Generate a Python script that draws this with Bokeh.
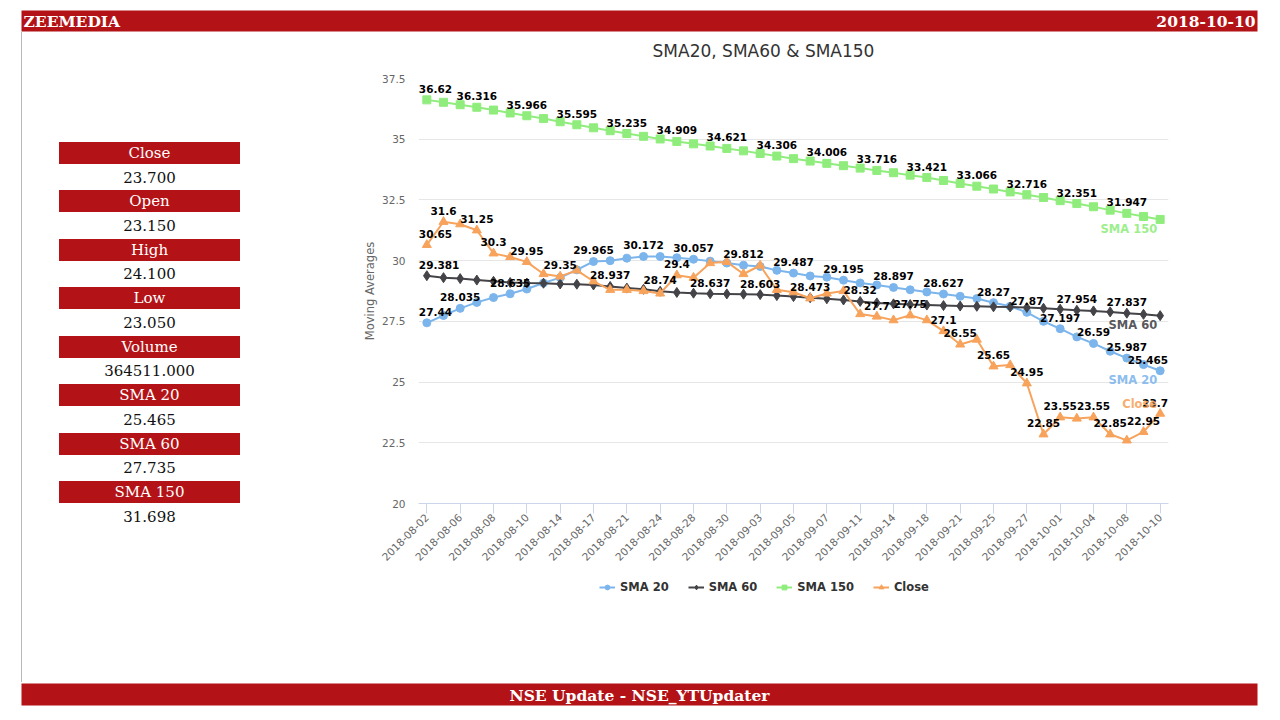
import math
from bokeh.plotting import figure
from bokeh.models import Range1d, FixedTicker, Legend, LegendItem, Div
from bokeh.layouts import column, row
from bokeh.embed import file_html
from bokeh.resources import INLINE
from bokeh.core.properties import value

# ---------------- data ----------------
dates = ["2018-08-02", "2018-08-03", "2018-08-06", "2018-08-07", "2018-08-08", "2018-08-09",
         "2018-08-10", "2018-08-13", "2018-08-14", "2018-08-16", "2018-08-17", "2018-08-20",
         "2018-08-21", "2018-08-23", "2018-08-24", "2018-08-27", "2018-08-28", "2018-08-29",
         "2018-08-30", "2018-08-31", "2018-09-03", "2018-09-04", "2018-09-05", "2018-09-06",
         "2018-09-07", "2018-09-10", "2018-09-11", "2018-09-12", "2018-09-14", "2018-09-17",
         "2018-09-18", "2018-09-19", "2018-09-21", "2018-09-24", "2018-09-25", "2018-09-26",
         "2018-09-27", "2018-09-28", "2018-10-01", "2018-10-03", "2018-10-04", "2018-10-05",
         "2018-10-08", "2018-10-09", "2018-10-10"]

sma20 = [27.44, 27.74, 28.035, 28.28, 28.48, 28.635, 28.83, 29.08, 29.3, 29.62,
         29.965, 30.0, 30.1, 30.172, 30.17, 30.12, 30.057, 29.98, 29.9, 29.812,
         29.76, 29.6, 29.487, 29.37, 29.32, 29.195, 29.08, 29.0, 28.897, 28.8,
         28.71, 28.627, 28.53, 28.44, 28.27, 28.12, 27.87, 27.5, 27.197, 26.86,
         26.59, 26.27, 25.987, 25.72, 25.465]

sma60 = [29.381, 29.3, 29.26, 29.2, 29.15, 29.1, 29.08, 29.07, 29.04, 29.03,
         29.0, 28.937, 28.87, 28.82, 28.74, 28.69, 28.66, 28.637, 28.63, 28.62,
         28.603, 28.56, 28.52, 28.473, 28.43, 28.38, 28.32, 28.26, 28.22, 28.19,
         28.17, 28.15, 28.13, 28.12, 28.1, 28.09, 28.07, 28.04, 28.0, 27.954,
         27.93, 27.89, 27.837, 27.79, 27.735]

sma150 = [36.62, 36.52, 36.42, 36.316, 36.2, 36.08, 35.966, 35.85, 35.72, 35.595,
          35.47, 35.35, 35.235, 35.12, 35.01, 34.909, 34.81, 34.72, 34.621, 34.52,
          34.41, 34.306, 34.2, 34.1, 34.006, 33.91, 33.81, 33.716, 33.62, 33.52,
          33.421, 33.3, 33.18, 33.066, 32.95, 32.83, 32.716, 32.6, 32.47, 32.351,
          32.22, 32.08, 31.947, 31.82, 31.698]

close = [30.65, 31.6, 31.5, 31.25, 30.3, 30.15, 29.95, 29.45, 29.35, 29.6,
         29.15, 28.8, 28.8, 28.75, 28.65, 29.4, 29.3, 29.9, 29.95, 29.45,
         29.8, 28.8, 28.7, 28.45, 28.65, 28.75, 27.8, 27.7, 27.55, 27.75,
         27.55, 27.1, 26.55, 26.75, 25.65, 25.7, 24.95, 22.85, 23.55, 23.5,
         23.55, 22.85, 22.6, 22.95, 23.7]

# which points carry a visible data label (as in the reference)
sma20_label_idx = [0, 2, 5, 10, 13, 16, 19, 22, 25, 28, 31, 34, 36, 38, 40, 42, 44]
sma60_label_idx = [0, 11, 14, 17, 20, 23, 26, 39, 42]
sma150_label_idx = list(range(0, 43, 3))
close_label_idx = [0, 1, 3, 4, 6, 8, 15, 27, 29, 31, 32, 34, 36, 37, 38, 40, 41, 43, 44]

series_names = ["SMA 20", "SMA 60", "SMA 150", "Close"]
series_colors = ["#7cb5ec", "#434348", "#90ed7d", "#f7a35c"]
series_markers = ["circle", "diamond", "square", "triangle"]
series_marker_sizes = [8, 10, 8, 9]

# end-of-series name labels (y in data units)
end_label_y = [25.09, 27.33, 31.31, 24.10]

panel_names = ["Close", "Open", "High", "Low", "Volume", "SMA 20", "SMA 60", "SMA 150"]
panel_values = [23.700, 23.150, 24.100, 23.050, 364511.000, 25.465, 27.735, 31.698]

header_left = "ZEEMEDIA"
header_right = "2018-10-10"
footer_text = "NSE Update - NSE_YTUpdater"
title_text = "SMA20, SMA60 & SMA150"
y_title = "Moving Averages"
y_ticks = [20, 22.5, 25, 27.5, 30, 32.5, 35, 37.5]
y_tick_labels = ["20", "22.5", "25", "27.5", "30", "32.5", "35", "37.5"]

RED = "#B31317"
SERIF = "DejaVu Serif"
SANS = "DejaVu Sans"


def deco_fig(w, h, x0, y0, bl=0, br=0):
    p = figure(width=w, height=h, x_range=Range1d(x0 + bl, x0 + w - br),
               y_range=Range1d(y0 + h, y0),
               output_backend="svg", toolbar_location=None,
               x_axis_location=None, y_axis_location=None, min_border=0)
    p.min_border_left = bl
    p.min_border_right = br
    p.min_border_top = p.min_border_bottom = 0
    p.outline_line_color = None
    p.xgrid.visible = False
    p.ygrid.visible = False
    return p


# ---------------- header (page y 0..32) ----------------
top = deco_fig(1272, 32, 0, 0)
top.quad(left=21, right=1257, top=10, bottom=31, fill_color=RED, line_color=None)
top.text(x=[23], y=[21], text=[header_left], text_font=value(SERIF), text_font_style="bold",
         text_font_size="15.5px", text_color="white", text_align="left", text_baseline="middle")
top.text(x=[1255], y=[21], text=[header_right], text_font=value(SERIF), text_font_style="bold",
         text_font_size="15.5px", text_color="white", text_align="right", text_baseline="middle")

# ---------------- left info panel (page x 0..360, y 32..682) ----------------
html = ['<div style="position:relative;width:360px;height:650px;margin:0;padding:0;">',
        '<div style="position:absolute;left:21px;top:0px;width:1px;height:650px;'
        'background:#b8b8b8;"></div>']
for i, (name, val) in enumerate(zip(panel_names, panel_values)):
    box_top = 110 + 48.43 * i
    html.append(
        '<div style="position:absolute;left:59px;top:%.1fpx;width:181px;height:22px;'
        'background:%s;color:white;font-family:\'DejaVu Serif\';font-size:15px;'
        'line-height:22px;text-align:center;white-space:nowrap;">%s</div>' % (box_top, RED, name))
    html.append(
        '<div style="position:absolute;left:59px;top:%.1fpx;width:181px;height:24px;'
        'color:#111111;font-family:\'DejaVu Serif\';font-size:15px;'
        'line-height:24px;text-align:center;white-space:nowrap;">%.3f</div>' % (box_top + 23.5, val))
html.append('</div>')
left = Div(text="".join(html), width=360, height=650, margin=0)

# ---------------- chart title strip (page x 360..1272, y 32..62) ----------------
tfig = deco_fig(912, 30, 360, 32, bl=58, br=104)
tfig.text(x=[763], y=[50], text=[title_text], text_font=value(SANS), text_font_size="17px",
          text_color="#333333", text_align="center", text_baseline="middle")

# ---------------- chart (page x 360..1272, y 62..572) ----------------
p = figure(width=912, height=510, x_range=Range1d(-0.5, 44.5), y_range=Range1d(20, 37.5),
           output_backend="svg", toolbar_location=None,
           min_border_left=58, min_border_right=104, min_border_top=16, min_border_bottom=69)
p.outline_line_color = None
p.background_fill_color = "white"
p.border_fill_color = "white"

p.xgrid.visible = False
p.ygrid.grid_line_color = "#e6e6e6"
p.ygrid.ticker = FixedTicker(ticks=y_ticks)

p.yaxis.ticker = FixedTicker(ticks=y_ticks)
p.yaxis.major_label_overrides = dict(zip(y_ticks, y_tick_labels))
p.yaxis.axis_line_color = None
p.yaxis.major_tick_line_color = None
p.yaxis.minor_tick_line_color = None
p.yaxis.major_tick_out = 0
p.yaxis.major_tick_in = 0
p.yaxis.minor_tick_out = 0
p.yaxis.minor_tick_in = 0
p.yaxis.major_label_standoff = 13
p.yaxis.major_label_text_font = SANS
p.yaxis.major_label_text_font_size = "10.5px"
p.yaxis.major_label_text_color = "#666666"
p.yaxis.axis_label = y_title
p.yaxis.axis_label_text_font = SANS
p.yaxis.axis_label_text_font_style = "normal"
p.yaxis.axis_label_text_font_size = "11.5px"
p.yaxis.axis_label_text_color = "#666666"
p.yaxis.axis_label_standoff = 2

x_tick_idx = list(range(0, len(dates), 2))
p.xaxis.ticker = FixedTicker(ticks=x_tick_idx)
p.xaxis.major_label_overrides = {i: dates[i] for i in x_tick_idx}
p.xaxis.axis_line_color = "#ccd6eb"
p.xaxis.major_tick_line_color = "#ccd6eb"
p.xaxis.major_tick_out = 10
p.xaxis.major_tick_in = 0
p.xaxis.minor_tick_line_color = None
p.xaxis.major_label_orientation = math.pi / 4
p.xaxis.major_label_standoff = 2
p.xaxis.major_label_text_font = SANS
p.xaxis.major_label_text_font_size = "10.5px"
p.xaxis.major_label_text_color = "#666666"

xs = list(range(len(dates)))
all_series = [sma20, sma60, sma150, close]
all_label_idx = [sma20_label_idx, sma60_label_idx, sma150_label_idx, close_label_idx]

for name, vals, col, mk, ms in zip(series_names, all_series, series_colors,
                                   series_markers, series_marker_sizes):
    p.line(xs, vals, line_color=col, line_width=2)
    p.scatter(xs, vals, marker=mk, size=ms, fill_color=col, line_color=col)


def fmt(v):
    return "%g" % v


last = len(dates) - 1
for vals, idxs in zip(all_series, all_label_idx):
    groups = [
        ([i for i in idxs if 0 < i < last], "center", 0),
        ([i for i in idxs if i == 0], "left", -8),
        ([i for i in idxs if i == last], "right", 8),
    ]
    for ids, align, xo in groups:
        if not ids:
            continue
        p.text(x=ids, y=[vals[i] for i in ids], text=[fmt(vals[i]) for i in ids],
               text_font=value(SANS), text_font_style="bold", text_font_size="10.5px",
               text_color="black", text_align=align, text_baseline="middle",
               x_offset=xo, y_offset=-11)

# series name labels at the right end
p.text(x=[last] * 4, y=end_label_y, text=series_names, text_color=series_colors,
       text_font=value(SANS), text_font_style="bold", text_font_size="11.5px",
       text_align="right", text_baseline="middle", x_offset=-3, text_alpha=0.9)

# ---------------- legend strip (page x 360..1272, y 572..682) ----------------
# the legend's renderers carry the series data, but this strip's ranges keep them out of view
lg = figure(width=912, height=110, x_range=Range1d(-10, -9), y_range=Range1d(0, 1),
            output_backend="svg", toolbar_location=None,
            x_axis_location=None, y_axis_location=None,
            min_border_left=58, min_border_right=104, min_border_top=0, min_border_bottom=0)
lg.outline_line_color = None
lg.xgrid.visible = False
lg.ygrid.visible = False
legend_items = []
for name, vals, col, mk, ms in zip(series_names, all_series, series_colors,
                                   series_markers, series_marker_sizes):
    lr = lg.line(xs, vals, line_color=col, line_width=2)
    sr = lg.scatter(xs, vals, marker=mk, size=ms, fill_color=col, line_color=col)
    legend_items.append(LegendItem(label=name, renderers=[lr, sr]))
legend = Legend(items=legend_items, location=(181, 88), orientation="horizontal",
                glyph_width=16, glyph_height=12, label_standoff=5, spacing=19,
                padding=0, margin=0, border_line_color=None, background_fill_alpha=0,
                label_text_font=SANS, label_text_font_style="bold",
                label_text_font_size="11.5px", label_text_color="#333333")
lg.add_layout(legend)

# ---------------- footer (page y 682..712) ----------------
bottom = deco_fig(1272, 30, 0, 682)
bottom.quad(left=21, right=1257, top=683, bottom=705, fill_color=RED, line_color=None)
bottom.text(x=[639], y=[694.5], text=[footer_text], text_font=value(SERIF),
            text_font_style="bold", text_font_size="15.5px", text_color="white",
            text_align="center", text_baseline="middle")

layout = column(top, row(left, column(tfig, p, lg)), bottom)

with open("out.html", "w") as f:
    f.write(file_html(layout, INLINE))
